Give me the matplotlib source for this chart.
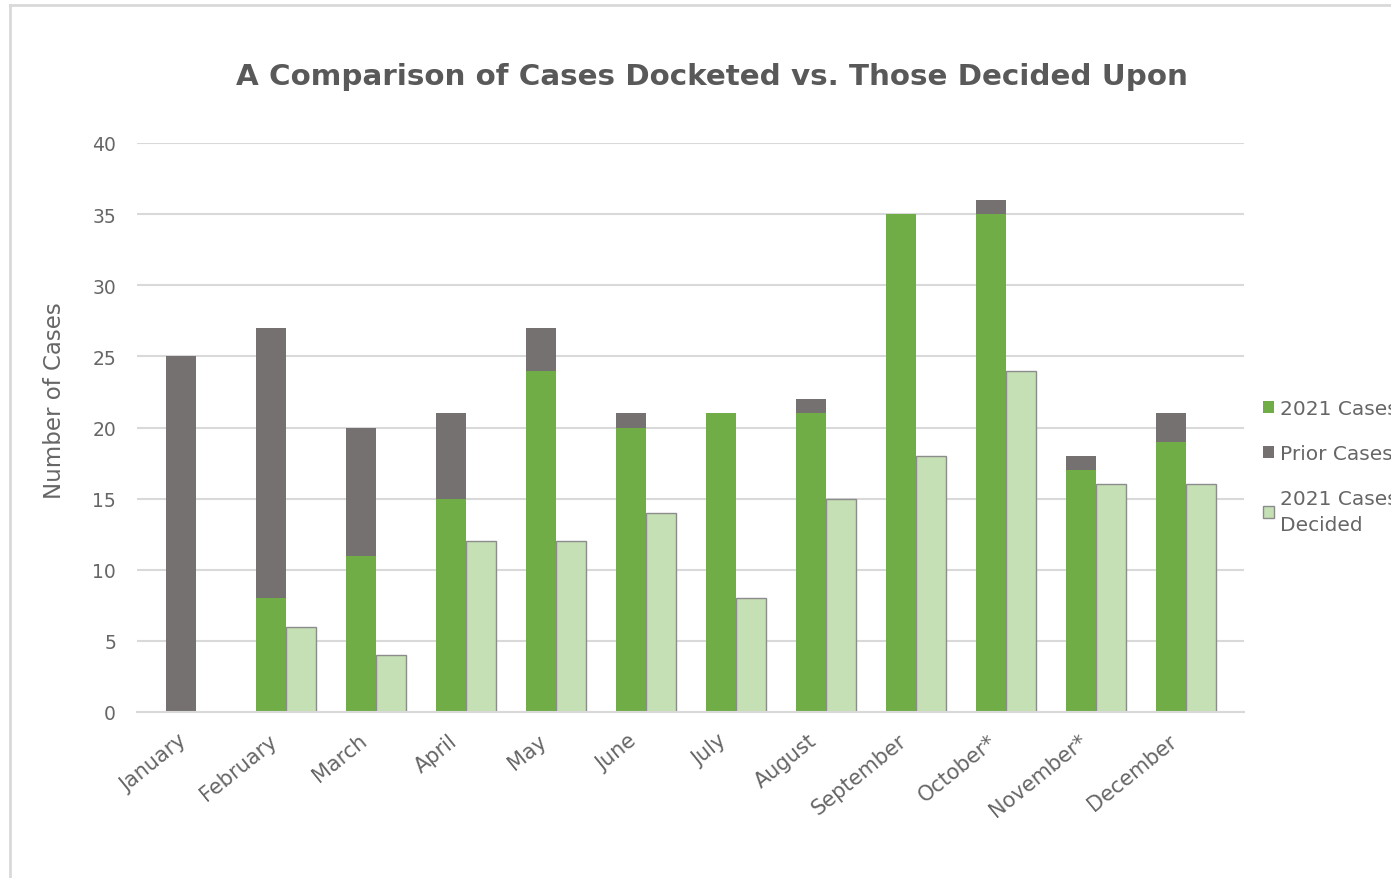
import matplotlib
matplotlib.use("Agg")
import matplotlib.pyplot as plt
import numpy as np
from matplotlib.lines import Line2D
from matplotlib.patches import Patch

months = ["January", "February", "March", "April", "May", "June", "July",
          "August", "September", "October*", "November*", "December"]
cases_2021 = [0, 8, 11, 15, 24, 20, 21, 21, 35, 35, 17, 19]
prior_cases = [25, 19, 9, 6, 3, 1, 0, 1, 0, 1, 1, 2]
decided_2021 = [0, 6, 4, 12, 12, 14, 8, 15, 18, 24, 16, 16]

GREEN = "#70AD47"
GREY = "#767171"
LIGHT = "#C5E0B4"
TEXT = "#595959"
SOFT = "#666666"
GRID = "#D9D9D9"

plt.rcParams["font.family"] = ["DejaVu Sans"]

fig = plt.figure(figsize=(13.91, 8.79), dpi=100)
W, H = 1391, 879
PX = 72 / 100  # points per pixel
ax = fig.add_axes([137 / W, 1 - 713 / H, (1244 - 137) / W, (713 - 144) / H])

x = np.arange(len(months))
bw = 1 / 3
ax.bar(x - bw / 2, cases_2021, bw, color=GREEN, linewidth=0, zorder=3)
ax.bar(x - bw / 2, prior_cases, bw, bottom=cases_2021, color=GREY,
       linewidth=0, zorder=3)
dec = [v if v > 0 else np.nan for v in decided_2021]
ax.bar(x + bw / 2, dec, bw, color=LIGHT, edgecolor="#8C8C8C",
       linewidth=1.0, zorder=3)

ax.set_xlim(-0.655, 11.645)
ax.set_ylim(0, 40)
ax.set_yticks(range(0, 41, 5))
ax.yaxis.grid(True, color=GRID, linewidth=1.5, zorder=0)
ax.set_axisbelow(True)
for s in ["top", "right", "left"]:
    ax.spines[s].set_visible(False)
ax.spines["bottom"].set_color(GRID)
ax.spines["bottom"].set_linewidth(1.5)
ax.spines["bottom"].set_zorder(4)
ax.tick_params(axis="both", length=0, colors=SOFT, labelsize=13.5)
ax.tick_params(axis="y", pad=21 * PX)

ax.set_xticks(x - 0.2)
ax.set_xticklabels(months, rotation=39, ha="right", rotation_mode="anchor",
                   fontsize=15, color=SOFT)
ax.tick_params(axis="x", pad=18 * PX)

fig.text(55 / W, 1 - 401 / H, "Number of Cases", rotation=90,
         ha="center", va="center", fontsize=16.5, color=SOFT)

fig.text(712 / W, 1 - 77 / H, "A Comparison of Cases Docketed vs. Those Decided Upon",
         ha="center", va="center", fontsize=21.2, fontweight="bold", color=TEXT)

handles = [Patch(facecolor=GREEN, edgecolor="none"),
           Patch(facecolor=GREY, edgecolor="none"),
           Patch(facecolor=LIGHT, edgecolor="#8C8C8C", linewidth=1.0)]
labels = ["2021 Cases", "Prior Cases", "2021 Cases\nDecided"]
leg = fig.legend(handles, labels, loc="upper left",
                 bbox_to_anchor=(1245 / W, 1 - 382 / H), frameon=False,
                 fontsize=14.5, labelcolor=SOFT, handlelength=0.55,
                 handleheight=0.55, handletextpad=0.3, labelspacing=1.3)
leg.get_texts()[2].set_linespacing(1.45)

# outer chart frame
fig.add_artist(Line2D([10 / W, 10 / W], [0, 1 - 6 / H], color=GRID,
                      linewidth=2, transform=fig.transFigure))
fig.add_artist(Line2D([10 / W, 1], [1 - 6 / H, 1 - 6 / H], color=GRID,
                      linewidth=2, transform=fig.transFigure))

fig.savefig("out.png", dpi=100)
